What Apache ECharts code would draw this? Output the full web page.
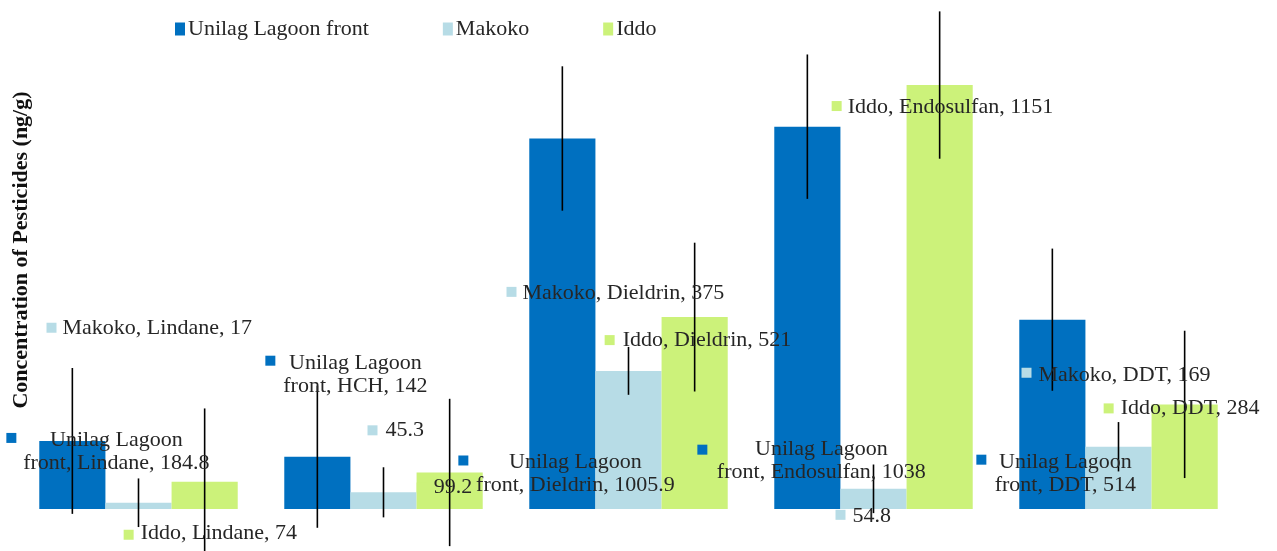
<!DOCTYPE html>
<html>
<head>
<meta charset="utf-8">
<title>pesticides</title>
<script src="https://cdn.jsdelivr.net/npm/echarts@6/dist/echarts.min.js"></script>
<style>
html, body { margin: 0; padding: 0; background: #fff; }
#chart { width: 1277px; height: 551px; }
</style>
</head>
<body>
<div id="chart"></div>
<script>
var categories = ['Lindane', 'HCH', 'Dieldrin', 'Endosulfan', 'DDT'];
var seriesNames = ['Unilag Lagoon front', 'Makoko', 'Iddo'];
var unilag = [184.8, 142, 1005.9, 1038, 514];
var makoko = [17, 45.3, 375, 54.8, 169];
var iddo = [74, 99.2, 521, 1151, 284];
// error bar half-lengths (ng/g)
var errUnilag = [198, 193, 196, 196, 193];
var errMakoko = [66, 68, 65, 66, 67];
var errIddo = [199, 200, 202, 200, 200];

var colors = ['#0070C0', '#B7DCE6', '#CCF27A'];
var values = [unilag, makoko, iddo];
var errs = [errUnilag, errMakoko, errIddo];
var GAP = 0.19;
var FONT = '22px "Liberation Serif", "Times New Roman", serif';
var TXT = '#262626';

// label placement relative to bar top centre: [keyDx, keyDy, textDx, textDy]
var labelLayout = [
  [[-61, -3, 44, 11], [-47, -96, 38, -82], [-99, 322, 13, 335], [-105, 323, 14, 334], [-71, 140, 13, 154]],
  [[-87, -175, -76, -175], [-11, -62, 2, -62], [-117, -79, -106, -78], [-33, 26, -21, 27], [-92, -74, -80, -72]],
  [[-76, 53, -64, 51], [-28, 15, -16, 15], [-85, 23, -72, 23], [-103, 21, -92, 22], [-76, 4, -64, 4]]
];
// labels that show only the value
var valueOnly = { '1,1': true, '2,1': true, '1,3': true };

function barX(api, cat, s) {
  var band = api.size([1, 0])[0];
  var w = band * (1 - GAP) / 3;
  return api.coord([cat, 0])[0] + (s - 1) * w;
}

var pointData = [];
for (var s = 0; s < 3; s++) {
  for (var c = 0; c < categories.length; c++) {
    pointData.push([c, s, values[s][c], errs[s][c]]);
  }
}

function labelText(s, c) {
  var v = values[s][c];
  if (valueOnly[s + ',' + c]) return String(v);
  if (s === 0) return 'Unilag Lagoon\nfront, ' + categories[c] + ', ' + v;
  return seriesNames[s] + ', ' + categories[c] + ', ' + v;
}

var chart = echarts.init(document.getElementById('chart'));
var series = [];
for (var i = 0; i < 3; i++) {
  series.push({
    name: seriesNames[i],
    type: 'bar',
    data: values[i],
    barGap: '0%',
    barCategoryGap: (GAP * 100) + '%',
    itemStyle: { color: colors[i] }
  });
}
series.push({
  name: 'err',
  type: 'custom',
  clip: false,
  z: 5,
  data: pointData,
  renderItem: function (params, api) {
    var c = api.value(0), s = api.value(1), v = api.value(2), e = api.value(3);
    var x = barX(api, c, s);
    var top = api.coord([c, v + e])[1];
    var bot = api.coord([c, v - e])[1];
    return {
      type: 'line',
      shape: { x1: x, y1: top, x2: x, y2: bot },
      style: { stroke: '#000', lineWidth: 1.6 }
    };
  }
});
series.push({
  name: 'labels',
  type: 'custom',
  clip: false,
  z: 6,
  data: pointData,
  renderItem: function (params, api) {
    var c = api.value(0), s = api.value(1), v = api.value(2);
    var L = labelLayout[s][c];
    var px = barX(api, c, s);
    var py = api.coord([c, v])[1];
    var two = s === 0 && !valueOnly[s + ',' + c];
    return {
      type: 'group',
      children: [
        {
          type: 'rect',
          shape: { x: px + L[0] - 5, y: py + L[1] - 5, width: 10, height: 10 },
          style: { fill: colors[s] }
        },
        {
          type: 'text',
          style: {
            x: px + L[2], y: py + L[3],
            text: labelText(s, c),
            font: FONT,
            fill: TXT,
            align: two ? 'center' : 'left',
            verticalAlign: 'middle',
            lineHeight: 23
          }
        }
      ]
    };
  }
});

chart.setOption({
  animation: false,
  grid: { left: 16, right: 36, top: 67, bottom: 42 },
  legend: {
    data: seriesNames,
    left: 170,
    top: 13,
    padding: 5,
    icon: 'rect',
    itemWidth: 10,
    itemHeight: 13,
    itemGap: 74,
    textStyle: { fontFamily: '"Liberation Serif", serif', fontSize: 22, color: TXT, padding: [0, 0, 0, -2] }
  },
  xAxis: { type: 'category', data: categories, show: false },
  yAxis: { type: 'value', min: 0, max: 1200, show: false },
  graphic: [{
    type: 'text',
    x: 21,
    y: 250,
    rotation: Math.PI / 2,
    style: {
      text: 'Concentration of Pesticides (ng/g)',
      font: 'bold 22px "Liberation Serif", serif',
      fill: '#111',
      align: 'center',
      verticalAlign: 'middle'
    }
  }],
  series: series
});
</script>
</body>
</html>
